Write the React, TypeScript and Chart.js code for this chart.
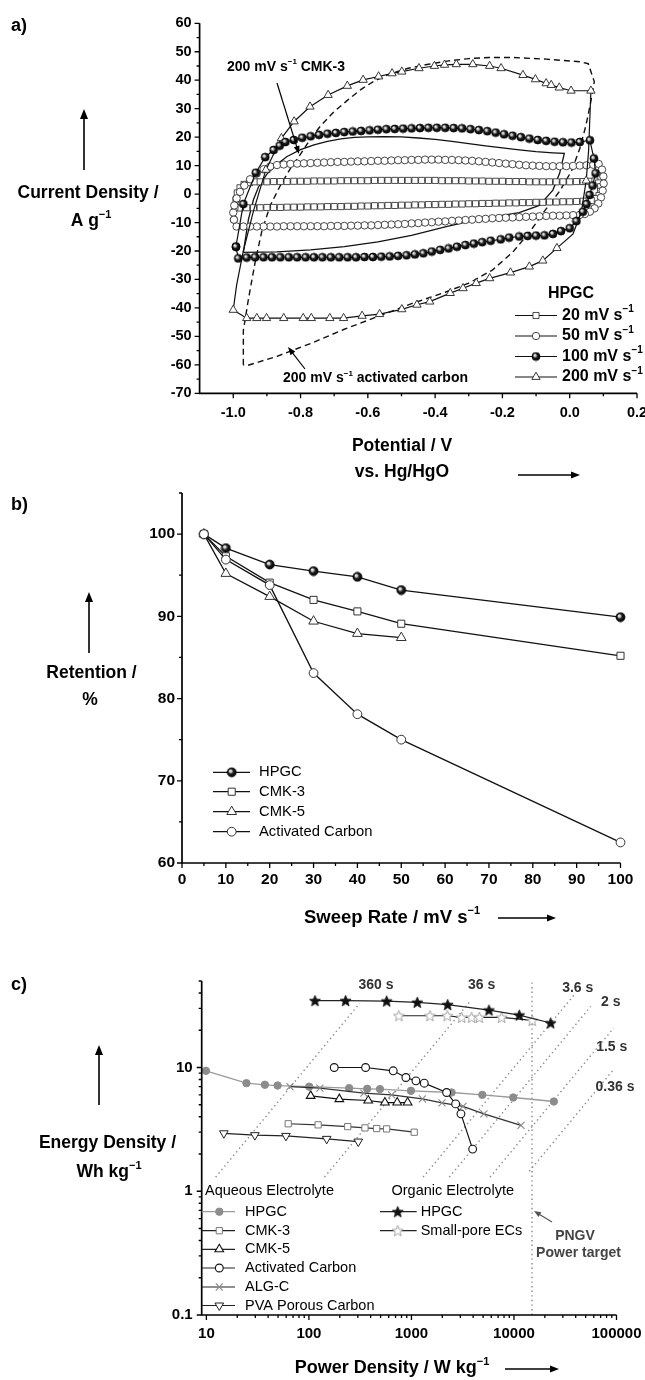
import React, { useEffect, useRef } from 'react';
import { Chart, registerables } from 'chart.js';
import { drawPoint } from 'chart.js/helpers';

Chart.register(...registerables);

const FONT = '"Liberation Sans", Arial, Helvetica, sans-serif';
const PAGE_W = 645;
const PAGE_H = 1380;

// ---------------- Panel a: cyclic voltammograms [potential V, current A/g] ----------------
const cvActivatedCarbon200 = [
  [-0.97, -60], [-0.97, -48], [-0.955, -37], [-0.935, -24], [-0.915, -13], [-0.89, -4], [-0.86, 3], [-0.83, 9],
  [-0.8, 14], [-0.77, 19.5], [-0.74, 24], [-0.7, 29], [-0.66, 33], [-0.62, 36.8], [-0.58, 39.8], [-0.53, 42.4],
  [-0.48, 44.2], [-0.42, 45.6], [-0.36, 46.8], [-0.3, 47.6], [-0.24, 48.0], [-0.17, 48.0], [-0.07, 47.4],
  [0.03, 46.5], [0.055, 45.8], [0.066, 42], [0.073, 39.5], [0.062, 32], [0.048, 24], [0.03, 16], [0.005, 8],
  [-0.03, 1], [-0.075, -6], [-0.12, -13.5], [-0.17, -20.5], [-0.23, -26.7], [-0.3, -31.3], [-0.37, -34.5],
  [-0.47, -38.5], [-0.57, -43.0], [-0.67, -47.5], [-0.77, -52.5], [-0.87, -57.0], [-0.96, -60.3], [-0.97, -60],
];
const cvCMK3_200 = [
  [-0.97, -20.5], [-0.955, -9], [-0.94, -2], [-0.925, 2.5], [-0.9, 7], [-0.87, 10.5], [-0.84, 13.2], [-0.8, 15.6],
  [-0.76, 17.3], [-0.72, 18.5], [-0.68, 19.4], [-0.64, 19.9], [-0.6, 20.1], [-0.55, 20.2], [-0.5, 20.1],
  [-0.45, 19.7], [-0.4, 19.2], [-0.35, 18.5], [-0.3, 17.7], [-0.25, 16.9], [-0.2, 16.2], [-0.15, 15.5],
  [-0.1, 14.9], [-0.05, 14.5], [-0.016, 14.3], [-0.03, 7.3], [-0.05, 1.4], [-0.09, -4.0], [-0.15, -6.5],
  [-0.27, -8.8], [-0.37, -11.5], [-0.47, -14.5], [-0.57, -16.8], [-0.67, -18.5], [-0.77, -19.6], [-0.87, -20.3],
  [-0.97, -20.5],
];
const cvHPGC20 = [
  [-0.995, -4.6], [-0.992, -2.0], [-0.988, 0.4], [-0.98, 2.2], [-0.968, 3.4], [-0.952, 4.0], [-0.936, 4.3],
  [-0.92, 4.3], [-0.90, 4.3], [-0.88, 4.4], [-0.86, 4.4], [-0.84, 4.4], [-0.82, 4.5], [-0.80, 4.5], [-0.78, 4.5],
  [-0.76, 4.6], [-0.74, 4.6], [-0.72, 4.6], [-0.70, 4.6], [-0.68, 4.7], [-0.66, 4.7], [-0.64, 4.7], [-0.62, 4.7],
  [-0.60, 4.7], [-0.58, 4.8], [-0.56, 4.8], [-0.54, 4.8], [-0.52, 4.8], [-0.50, 4.8], [-0.48, 4.8], [-0.46, 4.8],
  [-0.44, 4.8], [-0.42, 4.8], [-0.40, 4.8], [-0.38, 4.7], [-0.36, 4.7], [-0.34, 4.7], [-0.32, 4.7], [-0.30, 4.6],
  [-0.28, 4.6], [-0.26, 4.6], [-0.24, 4.5], [-0.22, 4.5], [-0.20, 4.5], [-0.18, 4.4], [-0.16, 4.4], [-0.14, 4.4],
  [-0.12, 4.3], [-0.10, 4.3], [-0.08, 4.3], [-0.06, 4.3], [-0.04, 4.3], [-0.02, 4.3], [0.00, 4.3], [0.02, 4.4],
  [0.04, 4.4], [0.06, 4.5], [0.075, 4.6], [0.086, 3.9], [0.092, 2.6], [0.092, 1.0], [0.087, -0.5], [0.078, -1.6],
  [0.064, -2.3], [0.04, -2.5], [0.02, -2.6], [0.00, -2.7], [-0.02, -2.7], [-0.04, -2.8], [-0.06, -2.8],
  [-0.08, -2.9], [-0.10, -2.9], [-0.12, -3.0], [-0.14, -3.0], [-0.16, -3.1], [-0.18, -3.1], [-0.20, -3.2],
  [-0.22, -3.2], [-0.24, -3.3], [-0.26, -3.3], [-0.28, -3.4], [-0.30, -3.4], [-0.32, -3.5], [-0.34, -3.5],
  [-0.36, -3.6], [-0.38, -3.6], [-0.40, -3.7], [-0.42, -3.7], [-0.44, -3.8], [-0.46, -3.8], [-0.48, -3.9],
  [-0.50, -3.9], [-0.52, -4.0], [-0.54, -4.0], [-0.56, -4.1], [-0.58, -4.1], [-0.60, -4.2], [-0.62, -4.2],
  [-0.64, -4.3], [-0.66, -4.3], [-0.68, -4.4], [-0.70, -4.4], [-0.72, -4.4], [-0.74, -4.5], [-0.76, -4.5],
  [-0.78, -4.5], [-0.80, -4.6], [-0.82, -4.6], [-0.84, -4.6], [-0.86, -4.7], [-0.88, -4.7], [-0.90, -4.7],
  [-0.92, -4.8], [-0.94, -4.8], [-0.96, -4.8], [-0.98, -4.9], [-0.995, -4.6],
];
const cvHPGC50 = [
  [-0.998, -9.0], [-1.0, -6.5], [-0.997, -4.0], [-0.99, -1.5], [-0.98, 0.8], [-0.967, 3.0], [-0.95, 5.2],
  [-0.93, 7.2], [-0.91, 8.7], [-0.89, 9.7], [-0.87, 10.2], [-0.85, 10.4], [-0.83, 10.6], [-0.81, 10.7],
  [-0.79, 10.8], [-0.77, 10.9], [-0.75, 11.0], [-0.73, 11.1], [-0.71, 11.2], [-0.69, 11.3], [-0.67, 11.3],
  [-0.65, 11.4], [-0.63, 11.5], [-0.61, 11.5], [-0.59, 11.6], [-0.57, 11.7], [-0.55, 11.7], [-0.53, 11.8],
  [-0.51, 11.9], [-0.49, 11.9], [-0.47, 12.0], [-0.45, 12.0], [-0.43, 12.1], [-0.41, 12.1], [-0.39, 12.1],
  [-0.37, 12.0], [-0.35, 12.0], [-0.33, 11.9], [-0.31, 11.8], [-0.29, 11.7], [-0.27, 11.5], [-0.25, 11.3],
  [-0.23, 11.1], [-0.21, 10.9], [-0.19, 10.7], [-0.17, 10.5], [-0.15, 10.3], [-0.13, 10.1], [-0.11, 10.0],
  [-0.09, 9.9], [-0.07, 9.8], [-0.05, 9.8], [-0.03, 9.8], [-0.01, 9.8], [0.01, 9.9], [0.03, 10.0], [0.05, 10.1],
  [0.07, 10.3], [0.086, 10.6], [0.096, 8.6], [0.1, 6.2], [0.101, 3.7], [0.098, 1.2], [0.093, -1.2],
  [0.085, -3.3], [0.074, -5.0], [0.06, -6.2], [0.045, -7.0], [0.03, -7.3], [0.01, -7.4], [-0.01, -7.5],
  [-0.03, -7.6], [-0.05, -7.6], [-0.07, -7.7], [-0.09, -7.8], [-0.11, -7.9], [-0.13, -8.0], [-0.15, -8.1],
  [-0.17, -8.2], [-0.19, -8.3], [-0.21, -8.4], [-0.23, -8.5], [-0.25, -8.7], [-0.27, -8.8], [-0.29, -9.0],
  [-0.31, -9.1], [-0.33, -9.3], [-0.35, -9.4], [-0.37, -9.6], [-0.39, -9.7], [-0.41, -9.9], [-0.43, -10.0],
  [-0.45, -10.2], [-0.47, -10.3], [-0.49, -10.5], [-0.51, -10.6], [-0.53, -10.7], [-0.55, -10.8],
  [-0.57, -10.9], [-0.59, -11.0], [-0.61, -11.0], [-0.63, -11.1], [-0.65, -11.1], [-0.67, -11.2],
  [-0.69, -11.2], [-0.71, -11.2], [-0.73, -11.3], [-0.75, -11.3], [-0.77, -11.3], [-0.79, -11.3],
  [-0.81, -11.3], [-0.83, -11.3], [-0.85, -11.3], [-0.87, -11.4], [-0.89, -11.4], [-0.91, -11.4],
  [-0.93, -11.4], [-0.95, -11.4], [-0.97, -11.4], [-0.99, -11.4], [-0.998, -9.0],
];
const cvHPGC100 = [
  [-0.992, -18.5], [-0.97, -3.5], [-0.933, 7.5], [-0.905, 13.0], [-0.88, 15.5], [-0.862, 17.0], [-0.845, 18.3],
  [-0.82, 19.0], [-0.795, 19.8], [-0.77, 20.3], [-0.745, 20.8], [-0.72, 21.2], [-0.695, 21.5], [-0.67, 21.8],
  [-0.645, 22.0], [-0.62, 22.2], [-0.595, 22.4], [-0.57, 22.6], [-0.545, 22.8], [-0.52, 22.9], [-0.495, 23.0],
  [-0.47, 23.1], [-0.445, 23.2], [-0.42, 23.3], [-0.395, 23.3], [-0.37, 23.3], [-0.345, 23.2], [-0.32, 23.1],
  [-0.295, 22.8], [-0.27, 22.5], [-0.245, 22.1], [-0.22, 21.6], [-0.195, 21.0], [-0.17, 20.5], [-0.145, 20.0],
  [-0.12, 19.5], [-0.095, 19.0], [-0.07, 18.7], [-0.045, 18.4], [-0.02, 18.2], [0.005, 18.1], [0.03, 18.3],
  [0.06, 18.9], [0.072, 12.5], [0.077, 7.3], [0.068, 3.0], [0.059, -0.3], [0.05, -3.5], [0.039, -6.2],
  [0.02, -9.5], [0.0, -12.0], [-0.026, -13.0], [-0.05, -14.0], [-0.075, -14.5], [-0.1, -14.6], [-0.125, -14.7],
  [-0.15, -14.9], [-0.18, -15.3], [-0.205, -15.9], [-0.235, -16.4], [-0.26, -16.9], [-0.285, -17.4],
  [-0.31, -17.9], [-0.335, -18.5], [-0.36, -19.1], [-0.385, -19.6], [-0.41, -20.2], [-0.435, -20.8],
  [-0.46, -21.2], [-0.485, -21.5], [-0.51, -21.7], [-0.535, -21.9], [-0.56, -22.0], [-0.585, -22.1],
  [-0.61, -22.1], [-0.635, -22.2], [-0.66, -22.2], [-0.685, -22.2], [-0.71, -22.2], [-0.735, -22.2],
  [-0.76, -22.2], [-0.785, -22.2], [-0.81, -22.2], [-0.835, -22.2], [-0.86, -22.2], [-0.885, -22.2],
  [-0.91, -22.2], [-0.935, -22.2], [-0.96, -22.3], [-0.985, -22.6], [-0.992, -18.5],
];
// third value: 1 = a marker is drawn at this point
const cvHPGC200 = [
  [-1.0, -40.7, 1], [-0.99, -32, 0], [-0.97, -20, 0], [-0.94, -6, 0], [-0.903, 8.5, 1], [-0.857, 19.6, 1],
  [-0.819, 25.5, 1], [-0.772, 30.7, 1], [-0.718, 34.8, 1], [-0.661, 38.0, 1], [-0.614, 40.1, 1], [-0.568, 41.3, 1],
  [-0.528, 42.4, 1], [-0.499, 43.0, 1], [-0.448, 44.2, 1], [-0.402, 45.0, 1], [-0.372, 45.4, 1], [-0.337, 45.6, 1],
  [-0.288, 45.6, 1], [-0.238, 45.0, 1], [-0.204, 44.2, 1], [-0.139, 41.8, 1], [-0.102, 40.3, 1], [-0.07, 38.9, 1],
  [-0.055, 38.3, 1], [-0.031, 37.4, 1], [0.004, 36.3, 1], [0.063, 36.3, 1], [0.056, 15, 0], [0.049, 4.7, 1],
  [0.035, -6, 0], [0.01, -14, 0], [-0.038, -19.0, 1], [-0.08, -23.4, 1], [-0.12, -25.5, 1], [-0.176, -27.6, 1],
  [-0.238, -29.6, 1], [-0.278, -31.3, 1], [-0.317, -33.1, 1], [-0.355, -34.8, 1], [-0.416, -37.8, 1],
  [-0.454, -38.9, 1], [-0.499, -40.5, 1], [-0.565, -42.2, 1], [-0.617, -42.8, 1], [-0.672, -43.6, 1],
  [-0.713, -43.6, 1], [-0.768, -43.6, 1], [-0.792, -43.6, 1], [-0.85, -43.6, 1], [-0.901, -43.6, 1],
  [-0.93, -43.6, 1], [-0.96, -43.6, 1], [-1.0, -40.7, 0],
];
const aXMajor = [-1.0, -0.8, -0.6, -0.4, -0.2, 0.0, 0.2];
const aXLabels = ['-1.0', '-0.8', '-0.6', '-0.4', '-0.2', '0.0', '0.2'];
const aXMinor = [-0.9, -0.7, -0.5, -0.3, -0.1, 0.1];
const aYMajor = [-70, -60, -50, -40, -30, -20, -10, 0, 10, 20, 30, 40, 50, 60];
const aYLabels = ['-70', '-60', '-50', '-40', '-30', '-20', '-10', '0', '10', '20', '30', '40', '50', '60'];
const aYMinor = [-65, -55, -45, -35, -25, -15, -5, 5, 15, 25, 35, 45, 55];
const aLegendRates = ['20 mV s', '50 mV s', '100 mV s', '200 mV s'];

// ---------------- Panel b: capacitance retention ----------------
const sweepRates = [5, 10, 20, 30, 40, 50, 100];
const retHPGC = [100, 98.3, 96.3, 95.5, 94.8, 93.2, 89.9];
const retCMK3 = [100, 97.3, 94.1, 92.0, 90.6, 89.1, 85.2];
const sweepRatesCMK5 = [5, 10, 20, 30, 40, 50];
const retCMK5 = [100, 95.2, 92.4, 89.4, 87.9, 87.4];
const retAC = [100, 96.9, 93.8, 83.1, 78.1, 75.0, 62.5];
const bNames = ['HPGC', 'CMK-3', 'CMK-5', 'Activated Carbon'];
const bXMajor = [0, 10, 20, 30, 40, 50, 60, 70, 80, 90, 100];
const bXLabels = ['0', '10', '20', '30', '40', '50', '60', '70', '80', '90', '100'];
const bXMinor = [5, 15, 25, 35, 45, 55, 65, 75, 85, 95];
const bYMajor = [60, 70, 80, 90, 100];
const bYLabels = ['60', '70', '80', '90', '100'];
const bYMinor = [65, 75, 85, 95, 105];

// ---------------- Panel c: Ragone plot [power W/kg, energy Wh/kg] ----------------
const aqHPGC_P = [9.9, 24.6, 37.2, 49.5, 100.7, 247, 370, 493, 989, 2466, 4908, 9840, 24500];
const aqHPGC_E = [9.4, 7.47, 7.25, 7.15, 7.0, 6.81, 6.73, 6.69, 6.48, 6.28, 6.01, 5.72, 5.31];
const cmk3_P = [62.8, 123, 239, 352, 458, 573, 1064];
const cmk3_E = [3.51, 3.44, 3.33, 3.25, 3.21, 3.19, 3.0];
const cmk5_P = [104, 198, 379, 551, 726, 918];
const cmk5_E = [5.9, 5.55, 5.41, 5.21, 5.21, 5.21];
const ac_P = [176.5, 357, 664, 883, 1106, 1333, 2204, 2698, 3039, 3953];
const ac_E = [10, 10, 9.4, 8.3, 7.8, 7.47, 6.28, 5.08, 4.22, 2.19];
const algc_P = [65.3, 128, 344, 641, 1279, 1987, 3180, 5090, 11700];
const algc_E = [7.0, 6.81, 6.21, 6.01, 5.58, 5.18, 4.85, 4.22, 3.41];
const pva_P = [14.8, 29.7, 59.7, 149, 303];
const pva_E = [2.94, 2.84, 2.8, 2.65, 2.52];
const orgHPGC_P = [114.5, 228, 573, 1140, 2255, 5700, 11270, 22800];
const orgHPGC_E = [34.7, 34.7, 34.4, 33.6, 32.2, 29.1, 26.5, 22.9];
const smallPore_P = [755, 1513, 2234, 3090, 3865, 4585, 7580, 15070];
const smallPore_E = [26.2, 26.2, 26.2, 25.4, 25.4, 25.4, 25.4, 24.0];
// dotted time-constant guides: position read as t (s), drawn between energies eLow..eHigh
const guideT = [380, 33, 3.6, 2.0, 0.8, 0.37];
const guideELow = [1.3, 1.3, 1.3, 1.3, 1.3, 1.45];
const guideEHigh = [33, 35, 38.7, 31.2, 20.8, 9.4];
const guideLabels = ['360 s', '36 s', '3.6 s', '2 s', '1.5 s', '0.36 s'];
const pngvPower = 15000;
const cAqNames = ['HPGC', 'CMK-3', 'CMK-5', 'Activated Carbon', 'ALG-C', 'PVA Porous Carbon'];
const cOrgNames = ['HPGC', 'Small-pore ECs'];
const cXMajor = [10, 100, 1000, 10000, 100000];
const cXLabels = ['10', '100', '1000', '10000', '100000'];
const cYMajor = [0.1, 1, 10];
const cYLabels = ['0.1', '1', '10'];

// ---------------- helpers ----------------
function makeBall(r: number) {
  const s = Math.ceil(r * 2 + 2);
  const c = document.createElement('canvas');
  c.width = s; c.height = s;
  const g = c.getContext('2d')!;
  const cx = s / 2;
  const grad = g.createRadialGradient(cx - r * 0.4, cx - r * 0.4, 0, cx, cx, r);
  grad.addColorStop(0, '#ffffff');
  grad.addColorStop(0.3, '#c8c8c8');
  grad.addColorStop(0.55, '#222222');
  grad.addColorStop(1, '#000000');
  g.beginPath(); g.arc(cx, cx, r, 0, Math.PI * 2); g.fillStyle = grad; g.fill();
  g.lineWidth = 0.8; g.strokeStyle = '#000'; g.stroke();
  return c;
}
function makeStar(r: number, fill: string, stroke: string) {
  const s = Math.ceil(r * 2 + 3);
  const c = document.createElement('canvas');
  c.width = s; c.height = s;
  const g = c.getContext('2d')!;
  const cx = s / 2, cy = s / 2 + 0.5;
  g.beginPath();
  for (let k = 0; k < 10; k++) {
    const rad = k % 2 === 0 ? r : r * 0.42;
    const a = -Math.PI / 2 + (k * Math.PI) / 5;
    const x = cx + rad * Math.cos(a), y = cy + rad * Math.sin(a);
    if (k === 0) g.moveTo(x, y); else g.lineTo(x, y);
  }
  g.closePath();
  g.fillStyle = fill; g.fill();
  g.lineWidth = 0.9; g.strokeStyle = stroke; g.stroke();
  return c;
}

type Seg = [string, boolean?];
function rich(ctx: any, segs: Seg[], x: number, y: number, size: number, weight: string, align: string, color = '#000') {
  const bf = `${weight} ${size}px ${FONT}`;
  const sf = `${weight} ${Math.round(size * 0.6)}px ${FONT}`;
  let tw = 0;
  const ws = segs.map(([t, sup]) => { ctx.font = sup ? sf : bf; const w = ctx.measureText(t).width; tw += w; return w; });
  let cx = align === 'center' ? x - tw / 2 : align === 'right' ? x - tw : x;
  ctx.save();
  ctx.fillStyle = color; ctx.textBaseline = 'middle'; ctx.textAlign = 'left';
  segs.forEach(([t, sup], i) => { ctx.font = sup ? sf : bf; ctx.fillText(t, cx, sup ? y - size * 0.36 : y); cx += ws[i]; });
  ctx.restore();
}
function arrow(ctx: any, x1: number, y1: number, x2: number, y2: number, color = '#000', lw = 1.5, hl = 9, hw = 3.5) {
  const a = Math.atan2(y2 - y1, x2 - x1);
  const c = Math.cos(a), s = Math.sin(a);
  ctx.save();
  ctx.strokeStyle = color; ctx.fillStyle = color; ctx.lineWidth = lw; ctx.setLineDash([]);
  ctx.beginPath(); ctx.moveTo(x1, y1); ctx.lineTo(x2 - hl * 0.8 * c, y2 - hl * 0.8 * s); ctx.stroke();
  ctx.beginPath();
  ctx.moveTo(x2, y2);
  ctx.lineTo(x2 - hl * c + hw * s, y2 - hl * s - hw * c);
  ctx.lineTo(x2 - hl * c - hw * s, y2 - hl * s + hw * c);
  ctx.closePath(); ctx.fill();
  ctx.restore();
}
function axes(chart: any, xMaj: number[], xMin: number[], yMaj: number[], yMin: number[], majLen = 5, minLen = 3) {
  const { ctx, chartArea: ca } = chart;
  const sx = chart.scales.x, sy = chart.scales.y;
  ctx.save();
  ctx.setLineDash([]);
  ctx.strokeStyle = '#000';
  ctx.lineWidth = 1.7;
  ctx.beginPath();
  ctx.moveTo(ca.left, ca.top); ctx.lineTo(ca.left, ca.bottom); ctx.lineTo(ca.right, ca.bottom);
  ctx.stroke();
  ctx.lineWidth = 1.3;
  ctx.beginPath();
  xMaj.forEach((v) => { const p = sx.getPixelForValue(v); ctx.moveTo(p, ca.bottom); ctx.lineTo(p, ca.bottom + majLen); });
  xMin.forEach((v) => { const p = sx.getPixelForValue(v); ctx.moveTo(p, ca.bottom); ctx.lineTo(p, ca.bottom + minLen); });
  yMaj.forEach((v) => { const p = sy.getPixelForValue(v); ctx.moveTo(ca.left - majLen, p); ctx.lineTo(ca.left, p); });
  yMin.forEach((v) => { const p = sy.getPixelForValue(v); ctx.moveTo(ca.left - minLen, p); ctx.lineTo(ca.left, p); });
  ctx.stroke();
  ctx.restore();
}
function legendMarker(ctx: any, st: any, x1: number, x2: number, xm: number, y: number) {
  ctx.save();
  ctx.setLineDash([]);
  ctx.strokeStyle = st.line; ctx.lineWidth = st.lw || 1.2;
  ctx.beginPath(); ctx.moveTo(x1, y); ctx.lineTo(x2, y); ctx.stroke();
  ctx.fillStyle = st.bg; ctx.strokeStyle = st.border; ctx.lineWidth = st.bw;
  drawPoint(ctx, { pointStyle: st.style, rotation: st.rot || 0, radius: st.r, borderWidth: st.bw }, xm, y);
  ctx.restore();
}
function scaleCfg(type: string, min: number, max: number, major: number[], labels: string[], size: number, isX: boolean, fontSize: number, pad: number) {
  return {
    type, min, max,
    afterFit: (s: any) => {
      if (isX) s.height = size; else s.width = size;
      s.paddingLeft = 0; s.paddingRight = 0; s.paddingTop = 0; s.paddingBottom = 0;
    },
    afterBuildTicks: (s: any) => { s.ticks = major.map((v) => ({ value: v })); },
    grid: { display: false, drawTicks: false },
    border: { display: false },
    ticks: {
      autoSkip: false, maxRotation: 0, minRotation: 0, padding: pad, color: '#000',
      font: { family: FONT, size: fontSize, weight: 'bold' },
      callback: (_v: any, i: number) => labels[i],
    },
  };
}
function baseOptions(padding: any, scales: any) {
  return {
    responsive: false, animation: false, events: [],
    layout: { padding },
    plugins: { legend: { display: false }, tooltip: { enabled: false } },
    scales,
  };
}
const xy = (arr: number[][]) => arr.map((p) => ({ x: p[0], y: p[1] }));
const zipXY = (xs: number[], ys: number[]) => xs.map((x, i) => ({ x, y: ys[i] }));

export default function App() {
  const refA = useRef<HTMLCanvasElement>(null);
  const refB = useRef<HTMLCanvasElement>(null);
  const refC = useRef<HTMLCanvasElement>(null);

  useEffect(() => {
    const ball = makeBall(4.0);
    const ballB = makeBall(4.5);
    const starBlack = makeStar(5.8, '#111', '#111');
    const starGray = makeStar(5.8, '#ffffff', '#9a9a9a');

    // ---------------- Panel a ----------------
    const aSt = {
      s20: { style: 'rect', r: 4.3, bg: '#fff', border: '#222', bw: 0.8, line: '#111', lw: 1 },
      s50: { style: 'circle', r: 3.7, bg: '#fff', border: '#333', bw: 0.9, line: '#111', lw: 1 },
      s100: { style: ball, r: 4.0, bg: '#000', border: '#000', bw: 0, line: '#111', lw: 1.2 },
      s200: { style: 'triangle', r: 4.8, bg: '#fff', border: '#222', bw: 0.9, line: '#111', lw: 1.2 },
    };
    const ds = (data: any[], st: any, extra: any = {}) => ({
      data, showLine: true, clip: false, tension: 0,
      borderColor: st.line, borderWidth: st.lw,
      pointStyle: st.style, pointRadius: st.r, pointBackgroundColor: st.bg, pointBorderColor: st.border,
      pointBorderWidth: st.bw, pointRotation: st.rot || 0, ...extra,
    });
    const aDatasets = [
      { data: xy(cvActivatedCarbon200), showLine: true, clip: false, borderColor: '#111', borderWidth: 1.4, borderDash: [6, 4], pointRadius: 0 },
      { data: xy(cvCMK3_200), showLine: true, clip: false, borderColor: '#111', borderWidth: 1.3, pointRadius: 0 },
      ds(xy(cvHPGC20), aSt.s20),
      ds(xy(cvHPGC50), aSt.s50),
      ds(xy(cvHPGC200), aSt.s200, { pointRadius: (c: any) => (cvHPGC200[c.dataIndex] && cvHPGC200[c.dataIndex][2] ? aSt.s200.r : 0) }),
      ds(xy(cvHPGC100), aSt.s100),
    ].reverse();
    const aPlugin = {
      id: 'panelA',
      afterDraw(chart: any) {
        const ctx = chart.ctx;
        axes(chart, aXMajor, aXMinor, aYMajor, aYMinor, 5, 3);
        rich(ctx, [['a)']], 11, 26, 18, 'bold', 'left');
        arrow(ctx, 84, 170, 84, 109, '#000', 1.6, 10, 4);
        rich(ctx, [['Current Density /']], 88, 193, 17.5, 'bold', 'center');
        rich(ctx, [['A g'], ['−1', true]], 91, 221, 17.5, 'bold', 'center');
        rich(ctx, [['Potential / V']], 402, 446.5, 17.5, 'bold', 'center');
        rich(ctx, [['vs. Hg/HgO']], 402, 472, 17.5, 'bold', 'center');
        arrow(ctx, 518, 475, 580, 475, '#000', 1.4, 9, 3.5);
        rich(ctx, [['200 mV s'], ['−1', true], [' CMK-3']], 227, 67, 14, 'bold', 'left');
        arrow(ctx, 277, 83, 299, 154, '#000', 1.2, 8, 3);
        rich(ctx, [['200 mV s'], ['−1', true], [' activated carbon']], 283, 378.5, 14, 'bold', 'left');
        arrow(ctx, 305, 369, 288, 347, '#000', 1.2, 8, 3);
        rich(ctx, [['HPGC']], 571, 293.5, 16, 'bold', 'center');
        const ly = [315.5, 336, 356.5, 377];
        const sts = [aSt.s20, aSt.s50, aSt.s100, aSt.s200];
        aLegendRates.forEach((name, i) => {
          legendMarker(ctx, { ...sts[i], lw: 1.2 }, 515, 557, 536, ly[i]);
          rich(ctx, [[name], ['−1', true]], 562, ly[i], 16, 'bold', 'left');
        });
      },
    };
    const chartA = new Chart(refA.current!, {
      type: 'scatter',
      data: { datasets: aDatasets as any },
      options: baseOptions(
        { left: 149.6, right: 8, top: 23.3, bottom: PAGE_H - 393.3 - 30 },
        {
          x: scaleCfg('linear', -1.1, 0.2, aXMajor, aXLabels, 30, true, 14.5, 11),
          y: scaleCfg('linear', -70, 60, aYMajor, aYLabels, 50, false, 14.5, 8),
        },
      ) as any,
      plugins: [aPlugin],
    });

    // ---------------- Panel b ----------------
    const bSt = [
      { style: ballB, r: 4.5, bg: '#000', border: '#000', bw: 0, line: '#111', lw: 1.3 },
      { style: 'rect', r: 5, bg: '#fff', border: '#333', bw: 1, line: '#111', lw: 1.3 },
      { style: 'triangle', r: 5.6, bg: '#fff', border: '#333', bw: 1, line: '#111', lw: 1.3 },
      { style: 'circle', r: 4.4, bg: '#fff', border: '#333', bw: 1, line: '#111', lw: 1.3 },
    ];
    const bDatasets = [
      ds(zipXY(sweepRates, retHPGC), bSt[0]),
      ds(zipXY(sweepRates, retCMK3), bSt[1]),
      ds(zipXY(sweepRatesCMK5, retCMK5), bSt[2]),
      ds(zipXY(sweepRates, retAC), bSt[3]),
    ].reverse();
    const bPlugin = {
      id: 'panelB',
      afterDraw(chart: any) {
        const ctx = chart.ctx;
        axes(chart, bXMajor, bXMinor, bYMajor, bYMinor, 5, 3);
        rich(ctx, [['b)']], 11, 505, 18, 'bold', 'left');
        arrow(ctx, 89, 653, 89, 592, '#000', 1.6, 10, 4);
        rich(ctx, [['Retention /']], 91.5, 673, 17.5, 'bold', 'center');
        rich(ctx, [['%']], 90, 700, 17.5, 'bold', 'center');
        rich(ctx, [['Sweep Rate / mV s'], ['−1', true]], 392, 917.5, 18.5, 'bold', 'center');
        arrow(ctx, 498, 918, 556, 918, '#000', 1.4, 9, 3.5);
        const ly = [772.3, 791.7, 811.7, 831.7];
        bNames.forEach((name, i) => {
          legendMarker(ctx, bSt[i], 213, 250, 231.7, ly[i]);
          rich(ctx, [[name]], 259, ly[i], 14.8, 'normal', 'left');
        });
      },
    };
    const chartB = new Chart(refB.current!, {
      type: 'scatter',
      data: { datasets: bDatasets as any },
      options: baseOptions(
        { left: 132, right: PAGE_W - 620.5, top: 493, bottom: PAGE_H - 863 - 30 },
        {
          x: scaleCfg('linear', 0, 100, bXMajor, bXLabels, 30, true, 15.5, 7),
          y: scaleCfg('linear', 60, 105, bYMajor, bYLabels, 50, false, 15.5, 7),
        },
      ) as any,
      plugins: [bPlugin],
    });

    // ---------------- Panel c ----------------
    const cSt = {
      aqHPGC: { style: 'circle', r: 3.7, bg: '#8c8c8c', border: '#8c8c8c', bw: 1, line: '#9a9a9a', lw: 1.3 },
      cmk3: { style: 'rect', r: 4.4, bg: '#fff', border: '#777', bw: 1, line: '#333', lw: 1.2 },
      cmk5: { style: 'triangle', r: 5, bg: '#fff', border: '#111', bw: 1.1, line: '#111', lw: 1.2 },
      ac: { style: 'circle', r: 3.9, bg: '#fff', border: '#111', bw: 1.1, line: '#111', lw: 1.2 },
      algc: { style: 'crossRot', r: 5, bg: '#fff', border: '#888', bw: 1.1, line: '#333', lw: 1.2 },
      pva: { style: 'triangle', rot: 180, r: 5, bg: '#fff', border: '#222', bw: 1, line: '#222', lw: 1.2 },
      org: { style: starBlack, r: 5.8, bg: '#111', border: '#111', bw: 0, line: '#222', lw: 1.2 },
      small: { style: starGray, r: 5.8, bg: '#fff', border: '#999', bw: 0, line: '#222', lw: 1.2 },
    };
    const guideDatasets = guideT.map((t, i) => ({
      data: [
        { x: (guideELow[i] * 3600) / t, y: guideELow[i] },
        { x: (guideEHigh[i] * 3600) / t, y: guideEHigh[i] },
      ],
      showLine: true, clip: false, borderColor: '#8a8a8a', borderWidth: 1.4, borderDash: [1.4, 3.2], pointRadius: 0,
    }));
    const cDatasets = [
      ...guideDatasets,
      {
        data: [{ x: pngvPower, y: 0.1 }, { x: pngvPower, y: 50 }],
        showLine: true, clip: false, borderColor: '#8a8a8a', borderWidth: 1.4, borderDash: [1.4, 3.2], pointRadius: 0,
      },
      ds(zipXY(pva_P, pva_E), cSt.pva),
      ds(zipXY(cmk3_P, cmk3_E), cSt.cmk3),
      ds(zipXY(cmk5_P, cmk5_E), cSt.cmk5),
      ds(zipXY(aqHPGC_P, aqHPGC_E), cSt.aqHPGC),
      ds(zipXY(algc_P, algc_E), cSt.algc),
      ds(zipXY(ac_P, ac_E), cSt.ac),
      ds(zipXY(smallPore_P, smallPore_E), cSt.small),
      ds(zipXY(orgHPGC_P, orgHPGC_E), cSt.org),
    ].reverse();
    const cXMinor: number[] = [];
    [10, 100, 1000, 10000].forEach((d) => { for (let k = 2; k <= 9; k++) cXMinor.push(k * d); });
    const cYMinor: number[] = [];
    [0.1, 1].forEach((d) => { for (let k = 2; k <= 9; k++) cYMinor.push(k * d); });
    [20, 30, 40, 50].forEach((v) => cYMinor.push(v));
    const cPlugin = {
      id: 'panelC',
      afterDraw(chart: any) {
        const ctx = chart.ctx;
        axes(chart, cXMajor, cXMinor, cYMajor, cYMinor, 5, 3);
        rich(ctx, [['c)']], 11, 985, 18, 'bold', 'left');
        arrow(ctx, 99, 1105, 99, 1045, '#000', 1.6, 10, 4);
        rich(ctx, [['Energy Density /']], 107.5, 1143.5, 17.5, 'bold', 'center');
        rich(ctx, [['Wh kg'], ['−1', true]], 109, 1172, 17.5, 'bold', 'center');
        rich(ctx, [['Power Density / W kg'], ['−1', true]], 392, 1368, 18, 'bold', 'center');
        arrow(ctx, 505, 1369, 559, 1369, '#000', 1.4, 9, 3.5);
        const gx = [376, 481.7, 577.7, 610.7, 611.7, 615];
        const gy = [985, 985, 988, 1002.5, 1047, 1087.3];
        guideLabels.forEach((t, i) => rich(ctx, [[t]], gx[i], gy[i], 14, 'bold', 'center', '#333'));
        rich(ctx, [['PNGV']], 575, 1236, 14, 'bold', 'center', '#444');
        rich(ctx, [['Power target']], 578.5, 1253.5, 14, 'bold', 'center', '#444');
        arrow(ctx, 552, 1222, 534, 1211, '#555', 1.2, 7, 2.8);
        rich(ctx, [['Aqueous Electrolyte']], 205, 1191, 14.5, 'normal', 'left');
        rich(ctx, [['Organic Electrolyte']], 391.5, 1191, 14.5, 'normal', 'left');
        const ly = [1211.7, 1230.7, 1249.3, 1268, 1287, 1305.5];
        const aqSt = [cSt.aqHPGC, cSt.cmk3, cSt.cmk5, cSt.ac, cSt.algc, cSt.pva];
        cAqNames.forEach((n, i) => {
          legendMarker(ctx, { ...aqSt[i], line: i === 0 ? '#9a9a9a' : '#222' }, 201.7, 235, 219.3, ly[i]);
          rich(ctx, [[n]], 245, ly[i], 14.5, 'normal', 'left');
        });
        const orgSt = [cSt.org, cSt.small];
        cOrgNames.forEach((n, i) => {
          legendMarker(ctx, orgSt[i], 380, 416.7, 397.7, ly[i]);
          rich(ctx, [[n]], 420.7, ly[i], 14.5, 'normal', 'left');
        });
      },
    };
    const chartC = new Chart(refC.current!, {
      type: 'scatter',
      data: { datasets: cDatasets as any },
      options: baseOptions(
        { left: 151.7, right: PAGE_W - 616.5, top: 981, bottom: PAGE_H - 1315 - 30 },
        {
          x: scaleCfg('logarithmic', 9, 100000, cXMajor, cXLabels, 30, true, 15, 10),
          y: scaleCfg('logarithmic', 0.1, 50, cYMajor, cYLabels, 50, false, 15, 9),
        },
      ) as any,
      plugins: [cPlugin],
    });

    return () => { chartA.destroy(); chartB.destroy(); chartC.destroy(); };
  }, []);

  const cs: React.CSSProperties = { position: 'absolute', left: 0, top: 0, width: PAGE_W, height: PAGE_H };
  return (
    <div style={{ position: 'absolute', left: 0, top: 0, width: PAGE_W, height: PAGE_H, background: '#fff', overflow: 'hidden' }}>
      <canvas ref={refA} width={PAGE_W} height={PAGE_H} style={cs} />
      <canvas ref={refB} width={PAGE_W} height={PAGE_H} style={cs} />
      <canvas ref={refC} width={PAGE_W} height={PAGE_H} style={cs} />
    </div>
  );
}
